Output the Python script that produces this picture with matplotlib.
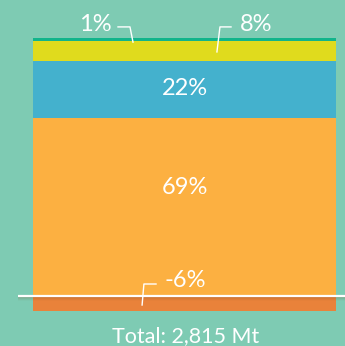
import matplotlib
matplotlib.use("Agg")
import matplotlib.pyplot as plt
import numpy as np

# Data
categories = ["Cat A", "Cat B", "Cat C", "Cat D", "Cat E"]
values = [69, 22, 8, 1, -6]          # percent shares
labels = ["69%", "22%", "8%", "1%", "-6%"]
colors = ["#FCB041", "#44B1CD", "#E0DB1D", "#12B48B", "#E9823A"]
total_label = "Total: 2,815 Mt"

BG = "#7ECBB3"
FONT = "Lato"

fig = plt.figure(figsize=(3.45, 3.46), dpi=100, facecolor=BG)
ax = fig.add_axes([0, 0, 1, 1])
ax.set_facecolor(BG)
ax.set_xlim(-0.609, 0.5297)
ax.set_ylim(-19.38, 114.73)
ax.axis("off")

# stacked bars
bottom_pos = 0
bottom_neg = 0
for v, c in zip(values, colors):
    if v >= 0:
        ax.bar(0, v, bottom=bottom_pos, width=1.0, color=c, linewidth=0, zorder=2)
        bottom_pos += v
    else:
        ax.bar(0, v, bottom=bottom_neg, width=1.0, color=c, linewidth=0, zorder=2)
        bottom_neg += v

# shadow below baseline
for i, a in enumerate([0.18, 0.12, 0.07, 0.03]):
    ax.plot([-0.55, 0.53], [-0.4 - i * 0.4] * 2, color="#7a4a20", alpha=a, lw=1.2,
            zorder=3, solid_capstyle="butt")
# baseline
ax.plot([-0.55, 0.53], [0, 0], color="white", lw=1.6, zorder=4, solid_capstyle="butt")

txt = dict(color="white", fontsize=17, family=FONT, fontweight="normal",
           ha="center", va="center", zorder=5)
# inner labels
ax.text(0.0, 80.6, labels[1], **txt)
ax.text(0.0, 42.2, labels[0], **txt)
# outside labels with leaders
ax.text(-0.295, 105.2, labels[3], **txt)
ax.text(0.236, 105.4, labels[2], **txt)
ax.text(0.003, 5.9, labels[4], **txt)

lk = dict(color="white", lw=1.0, zorder=5)
ax.plot([-0.2195, -0.180, -0.170], [104.3, 104.3, 98.4], **lk)
ax.plot([0.1535, 0.117, 0.107], [104.3, 104.3, 94.6], **lk)
ax.plot([-0.094, -0.134, -0.140], [4.65, 4.65, -3.5], **lk)

ax.text(0.003, -15.5, total_label, color="white", fontsize=15.5, family=FONT,
        fontweight="normal", ha="center", va="center")

fig.savefig("out.png", dpi=100, facecolor=BG)
